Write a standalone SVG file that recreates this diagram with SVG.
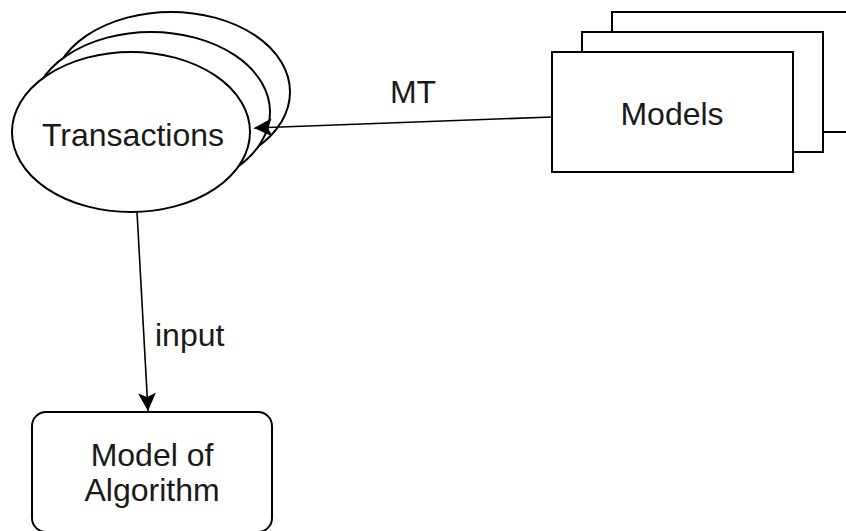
<svg xmlns="http://www.w3.org/2000/svg" width="846" height="531" viewBox="0 0 846 531">
<style>
.shape{fill:#ffffff;stroke:#000000;stroke-width:2}
.edge{fill:none;stroke:#000000;stroke-width:1.6}
.lbl{font-family:"Liberation Sans",Arial,sans-serif;font-size:32px;fill:#1a1a1a}
.c{text-anchor:middle}
</style>
<defs>
<marker id="arr" markerUnits="userSpaceOnUse" markerWidth="20" markerHeight="18" viewBox="0 0 20 18" refX="18" refY="9" orient="auto">
<path d="M0,0 L18,9 L0,18 L4,9 z" fill="#000000"/>
</marker>
</defs>
<g id="transactions">
<ellipse class="shape" cx="171" cy="92" rx="119" ry="80"/>
<ellipse class="shape" cx="151" cy="112" rx="119" ry="80"/>
<ellipse class="shape" cx="131" cy="132" rx="119" ry="80"/>
<text class="lbl c" x="133" y="146">Transactions</text>
</g>
<g id="models">
<rect class="shape" x="612" y="12" width="241" height="120"/>
<rect class="shape" x="582" y="32" width="241" height="120"/>
<rect class="shape" x="552" y="52" width="241" height="120"/>
<text class="lbl c" x="672" y="125">Models</text>
</g>
<g id="algorithm">
<rect class="shape" x="32" y="412" width="240" height="120" rx="14" ry="14"/>
<text class="lbl c" x="152" y="466">Model of</text>
<text class="lbl c" x="152" y="501">Algorithm</text>
</g>
<g id="connectors">
<path class="edge" d="M552,117 L254,128" marker-end="url(#arr)"/>
<text class="lbl c" x="413" y="103">MT</text>
<path class="edge" d="M137,212 L148,411" marker-end="url(#arr)"/>
<text class="lbl" x="155" y="346">input</text>
</g>
</svg>
